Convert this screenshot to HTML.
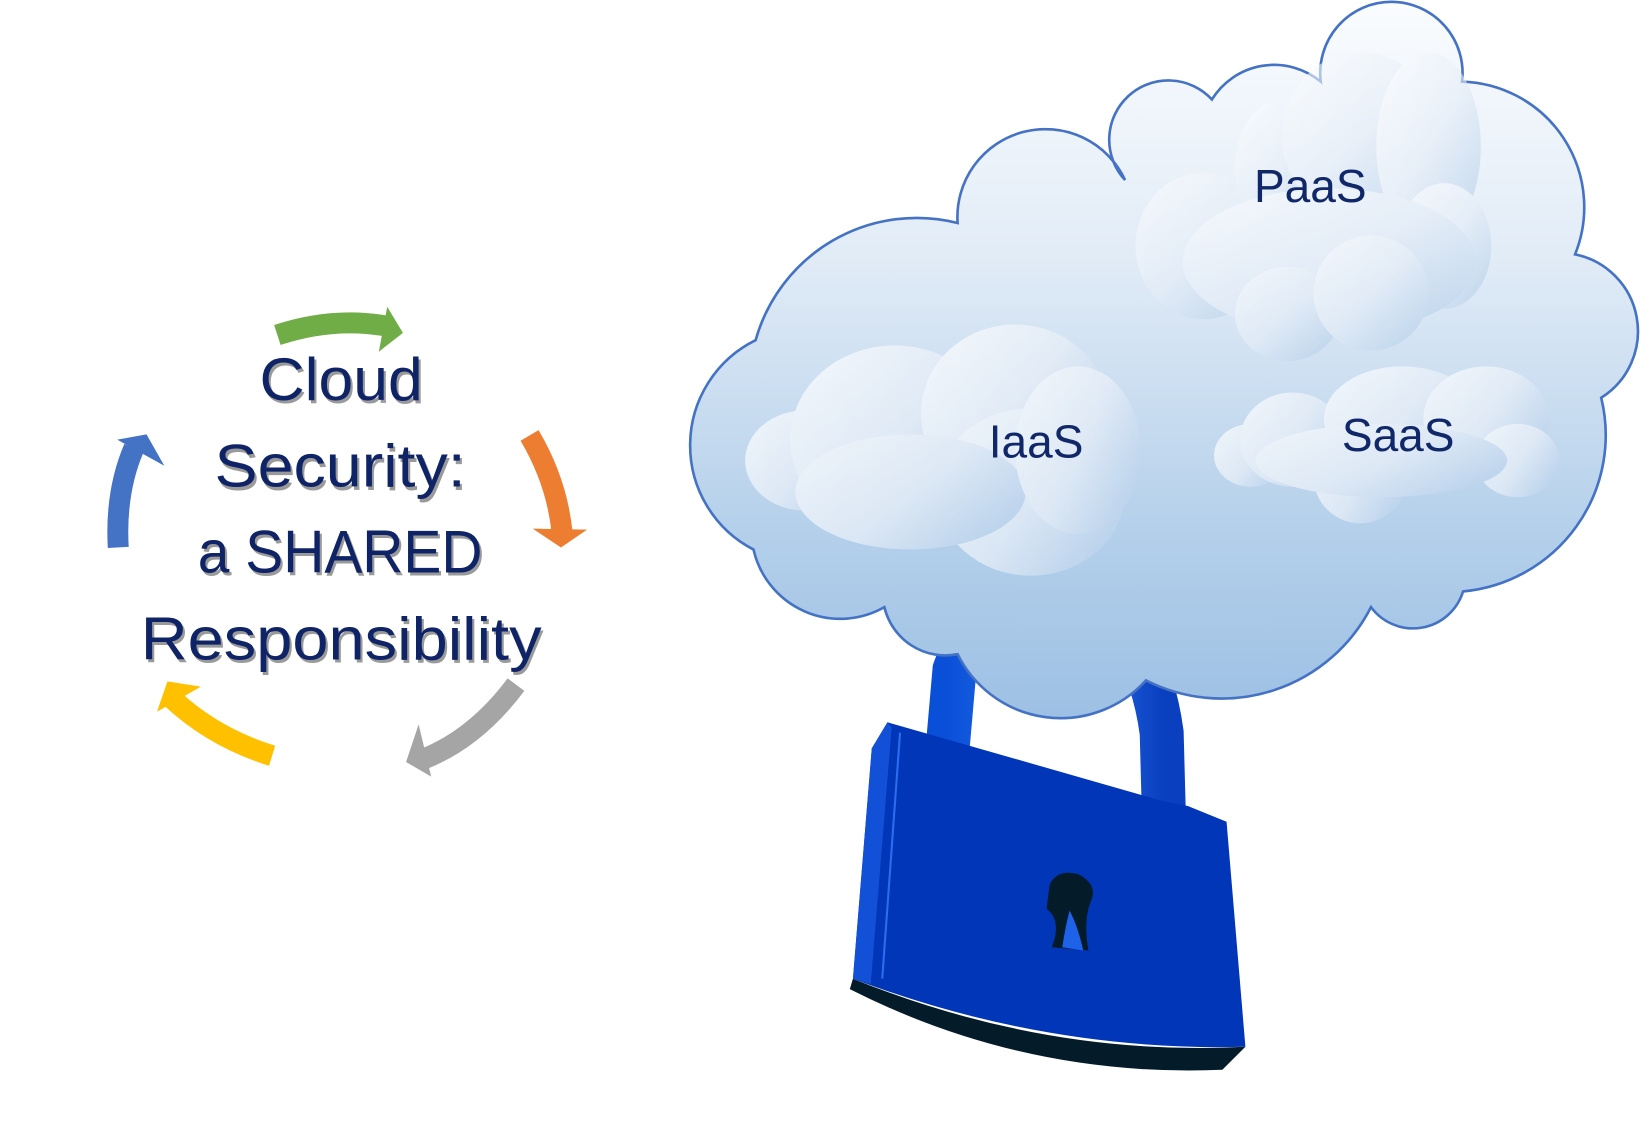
<!DOCTYPE html>
<html><head><meta charset="utf-8"><style>html,body{margin:0;padding:0;background:#fff;overflow:hidden}svg{display:block}</style></head><body>
<svg width="1641" height="1142" viewBox="0 0 1568 1091" preserveAspectRatio="none" xmlns="http://www.w3.org/2000/svg">
<defs>
<linearGradient id="cg" x1="0" y1="0" x2="0" y2="1"><stop offset="0" stop-color="#fafcfe"/><stop offset="0.35" stop-color="#e2ecf7"/><stop offset="0.75" stop-color="#b3cfea"/><stop offset="1" stop-color="#9dc0e4"/></linearGradient>
<linearGradient id="pg" x1="0" y1="0" x2="1" y2="1"><stop offset="0" stop-color="#ffffff"/><stop offset="0.5" stop-color="#e6eef8"/><stop offset="1" stop-color="#a9c8e6"/></linearGradient>
<linearGradient id="ig" x1="0" y1="0" x2="1" y2="0.6"><stop offset="0" stop-color="#ffffff"/><stop offset="0.6" stop-color="#e8eff8"/><stop offset="1" stop-color="#c0d6ee"/></linearGradient>
<linearGradient id="sh" x1="0" y1="0" x2="1" y2="0"><stop offset="0" stop-color="#0a4fd8"/><stop offset="0.5" stop-color="#2f7af0"/><stop offset="1" stop-color="#0a3fbf"/></linearGradient>
</defs>
<path d="M905 720 L912 640 Q940 560 1020 570 Q1095 590 1110 700 L1112 775" fill="none" stroke="url(#sh)" stroke-width="42"/>
<path d="M720 525 A112 112 0 0 1 722 325 A160 160 0 0 1 915 213 A84 84 0 0 1 1075 172 A50 50 0 1 1 1158 95 A70 70 0 0 1 1262 78 A68 68 0 1 1 1397 78 A120 120 0 0 1 1505 243 A75 75 0 0 1 1530 380 A150 150 0 0 1 1398 565 A50 50 0 0 1 1310 580 A160 160 0 0 1 1095 650 A110 110 0 0 1 915 625 A60 60 0 0 1 845 580 A85 85 0 0 1 720 525 Z" fill="url(#cg)" stroke="#4472c4" stroke-width="2.5"/>
<g fill="url(#pg)" opacity="0.6">
<ellipse cx="1150" cy="235" rx="65" ry="70"/><ellipse cx="1225" cy="160" rx="45" ry="65"/><ellipse cx="1300" cy="130" rx="75" ry="80"/><ellipse cx="1365" cy="140" rx="50" ry="90"/><ellipse cx="1380" cy="235" rx="45" ry="60"/><ellipse cx="1270" cy="250" rx="140" ry="70"/><ellipse cx="1230" cy="300" rx="50" ry="45"/><ellipse cx="1310" cy="280" rx="55" ry="55"/>
</g>
<g fill="url(#ig)" opacity="0.75">
<ellipse cx="770" cy="440" rx="58" ry="48"/><ellipse cx="855" cy="420" rx="100" ry="90"/><ellipse cx="970" cy="395" rx="90" ry="85"/><ellipse cx="985" cy="470" rx="90" ry="80"/><ellipse cx="870" cy="470" rx="110" ry="55"/><ellipse cx="1030" cy="430" rx="60" ry="80"/>
</g>
<g fill="url(#ig)" opacity="0.75">
<ellipse cx="1195" cy="435" rx="35" ry="30"/><ellipse cx="1235" cy="420" rx="50" ry="45"/><ellipse cx="1300" cy="455" rx="45" ry="45"/><ellipse cx="1340" cy="400" rx="75" ry="50"/><ellipse cx="1420" cy="400" rx="60" ry="50"/><ellipse cx="1450" cy="440" rx="40" ry="35"/><ellipse cx="1320" cy="440" rx="120" ry="35"/>
</g>
<g font-family="'Liberation Sans',sans-serif" fill="#10286a" font-size="44" text-anchor="middle">
<text x="1252" y="193">PaaS</text><text x="990" y="437">IaaS</text><text x="1336" y="431">SaaS</text>
</g>
<path d="M815 935 Q1000 1010 1190 1000 L1168 1022 Q980 1030 812 945 Z" fill="#041b2a"/>
<path d="M848 690 L1110 765 L1135 770 L1172 785 L1190 1000 Q1000 1005 815 935 L833 715 Z" fill="#0236b8"/>
<path d="M848 690 L833 715 L815 935 L832 940 L852 695 Z" fill="#1350d8"/>
<path d="M860 700 L843 935" stroke="#2d6cf0" stroke-width="2"/>
<path d="M1003 845 Q1010 830 1030 835 Q1050 845 1042 862 Q1035 880 1040 908 L1005 905 Q1015 880 1000 868 Z" fill="#041b2a"/>
<path d="M1022 870 Q1030 885 1035 908 L1015 905 Q1018 885 1022 870Z" fill="#1d62e8"/>
<path d="M265 320 Q320 302 372 312" fill="none" stroke="#70ad47" stroke-width="20"/><polygon points="370,293 385,318 362,336" fill="#70ad47"/>
<path d="M506 416 Q532 460 537 508" fill="none" stroke="#ed7d31" stroke-width="20"/><polygon points="509,505 561,506 536,523" fill="#ed7d31"/>
<path d="M493 654 Q455 705 405 725" fill="none" stroke="#a5a5a5" stroke-width="20"/><polygon points="400,692 388,728 412,742" fill="#a5a5a5"/>
<path d="M260 722 Q205 705 165 668" fill="none" stroke="#ffc000" stroke-width="20"/><polygon points="150,680 160,651 192,656" fill="#ffc000"/>
<path d="M113 523 Q110 470 128 428" fill="none" stroke="#4472c4" stroke-width="20"/><polygon points="112,420 140,415 157,445" fill="#4472c4"/>
<g font-family="'Liberation Sans',sans-serif" font-size="58" text-anchor="middle">
<g fill="#9a9a9a" transform="translate(2,3)">
<text x="326" y="382" textLength="156" lengthAdjust="spacingAndGlyphs">Cloud</text><text x="325" y="465" textLength="240" lengthAdjust="spacingAndGlyphs">Security:</text><text x="325" y="547" textLength="272" lengthAdjust="spacingAndGlyphs">a SHARED</text><text x="326" y="630" textLength="383" lengthAdjust="spacingAndGlyphs">Responsibility</text>
</g>
<g fill="#0f2466">
<text x="326" y="382" textLength="156" lengthAdjust="spacingAndGlyphs">Cloud</text><text x="325" y="465" textLength="240" lengthAdjust="spacingAndGlyphs">Security:</text><text x="325" y="547" textLength="272" lengthAdjust="spacingAndGlyphs">a SHARED</text><text x="326" y="630" textLength="383" lengthAdjust="spacingAndGlyphs">Responsibility</text>
</g></g>
</svg>
</body></html>
